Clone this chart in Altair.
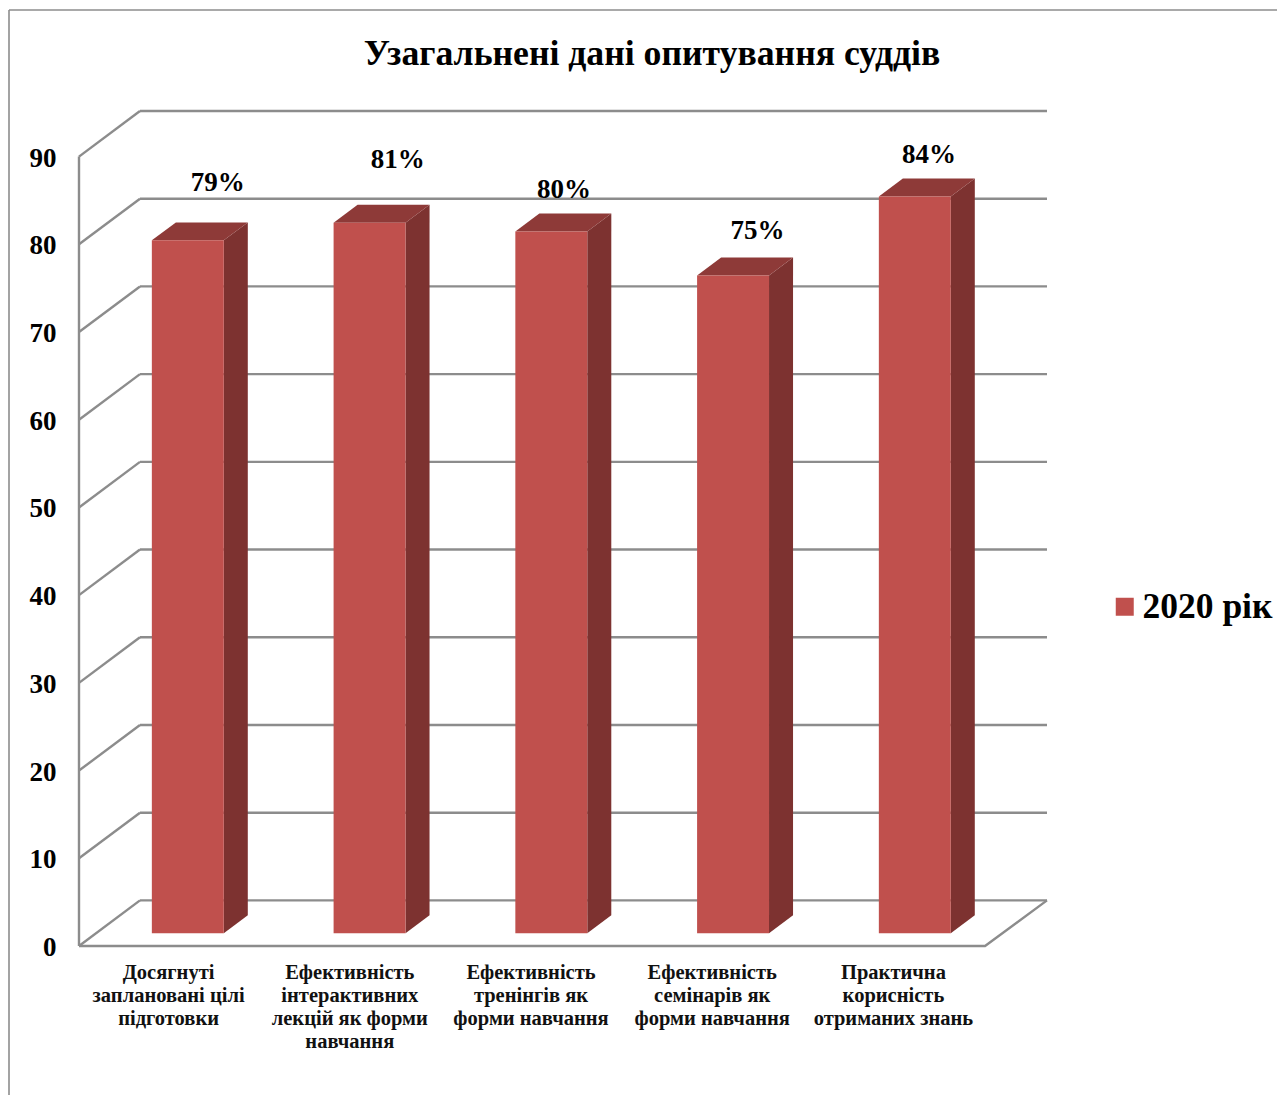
import json
import altair as alt
import pandas as pd

# ---- data ----
categories = [
    "Досягнуті|заплановані цілі|підготовки",
    "Ефективність|інтерактивних|лекцій  як форми|навчання",
    "Ефективність|тренінгів як|форми навчання",
    "Ефективність|семінарів як|форми навчання",
    "Практична|корисність|отриманих знань",
]
values = [79, 81, 80, 75, 84]
tick_values = [0, 10, 20, 30, 40, 50, 60, 70, 80, 90]
series_name = "2020 рік"
title_text = "Узагальнені дані опитування суддів"

# ---- layout of the pseudo-3D box, in data units ----
X_MAX = 5.342          # right end of the back wall
Y_MAX = 95.2           # top of the back wall
WALL_DX, WALL_DY = 0.3366, 5.2   # box depth
BAR_STEP, BAR_LEFT, BAR_W = 1.003, 0.402, 0.397   # bar inside its category slot
BAR_DX, BAR_DY = 0.1325, 2.05    # bar depth
BAR_BASE = 1.45
# manual placement of value labels (they sit irregularly in the original)
LABEL_NUDGE_X = [0.165, 0.155, 0.07, 0.135, 0.078]
LABEL_NUDGE_Y = [6.52, 7.12, 4.72, 5.02, 4.72]

RED, RED_SIDE, RED_TOP = "#C0504D", "#7D3230", "#8E3A38"
GREY = "#8C8C8C"
FONT = "Liberation Serif"

label_expr = "split(" + json.dumps(categories, ensure_ascii=False) + "[floor(datum.value)], '|')"

xscale = alt.Scale(domain=[0, X_MAX], nice=False, zero=False)
yscale = alt.Scale(domain=[0, Y_MAX], nice=False, zero=False)
xaxis = alt.Axis(
    values=[i + 0.5 for i in range(len(categories))], title=None, domain=False, ticks=False, grid=False,
    labelExpr=label_expr, labelFont=FONT, labelFontSize=20.5, labelFontWeight="bold", labelColor="#111",
    labelLineHeight=23, labelBaseline="top", labelAlign="center", labelPadding=16, labelAngle=0,
    labelOffset=-1.5, labelOverlap=False, labelBound=False, labelFlush=False,
)
yaxis = alt.Axis(
    values=tick_values, title=None, domain=False, ticks=False, grid=False, format="d",
    labelFont=FONT, labelFontSize=27, labelFontWeight="bold", labelColor="#000",
    labelPadding=23, labelOffset=1.5, labelOverlap=False, labelBound=False, labelFlush=False,
)


def X(f="x"):
    return alt.X(f"{f}:Q", scale=xscale, axis=xaxis)


def Y(f="y"):
    return alt.Y(f"{f}:Q", scale=yscale, axis=yaxis)


# ---- tables derived from the arrays ----
back_rows = [{"x": WALL_DX, "x2": X_MAX, "y": v + WALL_DY} for v in tick_values]
line_rows = []
for v in tick_values:
    line_rows += [{"x": 0, "y": v, "g": f"d{v}"}, {"x": WALL_DX, "y": v + WALL_DY, "g": f"d{v}"}]
line_rows += [{"x": 0, "y": 0, "g": "wall"}, {"x": 0, "y": tick_values[-1], "g": "wall"}]
line_rows += [{"x": 0, "y": 0, "g": "floor"}, {"x": len(categories), "y": 0, "g": "floor"},
              {"x": X_MAX, "y": WALL_DY, "g": "floor"}]

front, side, top, labels = [], [], [], []
for i, v in enumerate(values):
    x0, x1 = i * BAR_STEP + BAR_LEFT, i * BAR_STEP + BAR_LEFT + BAR_W
    t = v + BAR_BASE
    front.append({"x": x0, "x2": x1, "y": BAR_BASE, "y2": t, "series": series_name})
    side += [{"x": x1, "y": BAR_BASE, "y2": t, "b": i},
             {"x": x1 + BAR_DX, "y": BAR_BASE + BAR_DY, "y2": t + BAR_DY, "b": i}]
    top += [{"x": x0, "x2": x1, "y": t, "b": i},
            {"x": x0 + BAR_DX, "x2": x1 + BAR_DX, "y": t + BAR_DY, "b": i}]
    labels.append({"x": (x0 + x1) / 2 + LABEL_NUDGE_X[i], "y": t + LABEL_NUDGE_Y[i], "t": f"{v}%"})

# ---- layers ----
frame_v = alt.Chart(pd.DataFrame({"a": [0]})).mark_rule(color=GREY, strokeWidth=1.6).encode(
    x=alt.value(-70), y=alt.value(-101), y2=alt.value(984))
frame_h = alt.Chart(pd.DataFrame({"a": [0]})).mark_rule(color=GREY, strokeWidth=1.6).encode(
    x=alt.value(-70), x2=alt.value(1206), y=alt.value(-101))

back = alt.Chart(pd.DataFrame(back_rows)).mark_rule(color=GREY, strokeWidth=2.4).encode(
    x=X(), x2="x2:Q", y=Y())
lines = alt.Chart(pd.DataFrame(line_rows)).mark_line(color=GREY, strokeWidth=2.4, interpolate="linear").encode(
    x=X(), y=Y(), detail="g:N", order=alt.Order("x:Q"))
side_faces = alt.Chart(pd.DataFrame(side)).mark_area(color=RED_SIDE, interpolate="linear").encode(
    x=X(), y=Y(), y2="y2:Q", detail="b:N")
top_faces = alt.Chart(pd.DataFrame(top)).mark_area(color=RED_TOP, orient="horizontal", interpolate="linear").encode(
    y=Y(), x=X(), x2="x2:Q", detail="b:N")
front_faces = alt.Chart(pd.DataFrame(front)).mark_rect().encode(
    x=X(), x2="x2:Q", y=Y(), y2="y2:Q",
    color=alt.Color("series:N", scale=alt.Scale(domain=[series_name], range=[RED]),
                    legend=alt.Legend(title=None, orient="none", legendX=1028, legendY=478, padding=0,
                                      symbolType="square", symbolSize=324, symbolStrokeWidth=0,
                                      labelFont=FONT, labelFontSize=35.5, labelFontWeight="bold",
                                      labelColor="#000", labelOffset=0, labelLimit=300)),
)
value_labels = alt.Chart(pd.DataFrame(labels)).mark_text(
    font=FONT, fontSize=27, fontWeight="bold", color="#000", baseline="middle", align="center").encode(
    x=X(), y=Y(), text="t:N")

chart = alt.layer(frame_v, frame_h, back, lines, side_faces, top_faces, front_faces, value_labels).properties(
    width=968, height=835,
    autosize=alt.AutoSizeParams(type="none", contains="content"),
    padding={"left": 71, "top": 103, "right": 230, "bottom": 149},
    background="white",
    title=alt.TitleParams(title_text, font=FONT, fontSize=35.7, fontWeight="bold", color="#000",
                          anchor="middle", frame="group", dx=89, offset=-63),
).configure_view(stroke=None)

chart.save("out.html", embed_options={"renderer": "svg", "actions": False})
